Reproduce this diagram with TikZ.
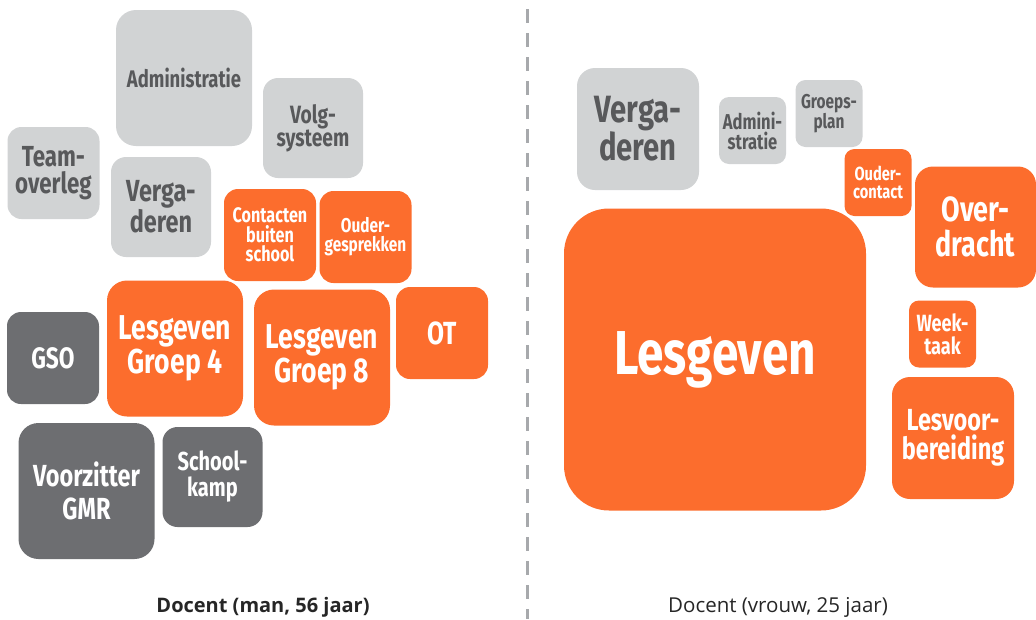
\documentclass[tikz,border=0pt]{standalone}
\usepackage{fontspec}
\setmainfont{Open Sans}
\newfontfamily\boxfont[FakeStretch=0.77]{Fira Sans}
\usepackage{tikz}
\definecolor{oranje}{HTML}{FC6D2D}
\definecolor{lichtgrijs}{HTML}{D1D3D4}
\definecolor{donkergrijs}{HTML}{6D6E71}
\definecolor{tekstgrijs}{HTML}{58595B}
\definecolor{lijngrijs}{HTML}{A7A9AC}

\begin{document}
\begin{tikzpicture}[x=1pt, y=-1pt,
	box/.style={rectangle, inner sep=0pt, align=center, minimum width=#1pt, minimum height=#1pt},
	light/.style={box=#1, fill=lichtgrijs, text=tekstgrijs},
	dark/.style={box=#1, fill=donkergrijs, text=white},
	orange/.style={box=#1, fill=oranje, text=white},
	fs/.style args={#1/#2}{font=\boxfont\bfseries\fontsize{#1}{#2}\selectfont},
	caption/.style={font=\fontsize{20}{22}\selectfont, text=black!85}]
	\useasboundingbox (0,0) rectangle (1036,619);
	% man, 56 jaar
	\node[light=136, rounded corners=20pt, fs=24/27] at (184,78) (adm) {Administratie};
	\node[light=100, rounded corners=15pt, fs=25/23] at (313,128) (volg) {Volg-\\systeem};
	\node[light=92, rounded corners=14pt, fs=29/27] at (53.5,173) (team) {Team-\\overleg};
	\node[light=100, rounded corners=15pt, fs=30.5/28.5] at (161,207) (verg) {Verga-\\deren};
	\node[orange=92, rounded corners=14pt, fs=21/19.5] at (270,235) (contact) {Contacten\\buiten\\school};
	\node[orange=92, rounded corners=14pt, fs=20/19] at (365.5,237) (ouder) {Ouder-\\gesprekken};
	\node[dark=92, rounded corners=14pt, fs=29.5/30] at (53,358) (gso) {GSO};
	\node[orange=136, rounded corners=20pt, fs=34.5/34] at (175,348.5) (lesvier) {Lesgeven\\Groep 4};
	\node[orange=136, rounded corners=20pt, fs=34.5/34] at (322,357.5) (lesacht) {Lesgeven\\Groep 8};
	\node[orange=92, rounded corners=14pt, fs=32/34] at (442,333) (ot) {OT};
	\node[dark=136, rounded corners=20pt, fs=30.5/33] at (86.5,491) (gmr) {Voorzitter\\GMR};
	\node[dark=100, rounded corners=15pt, fs=26/26] at (212.5,477) (kamp) {School-\\kamp};
	\node[caption, font=\bfseries\fontsize{20}{22}\selectfont] at (263,607) (man) {Docent (man, 56 jaar)};

	% scheidingslijn
	\coordinate (boven) at (527,9);
	\coordinate (onder) at (527,619);
	\draw[lijngrijs, line width=3pt, dash pattern=on 14pt off 10pt] (boven) -- (onder);

	% vrouw, 25 jaar
	\node[light=122, rounded corners=18pt, fs=38/35] at (638,129) (vergb) {Verga-\\deren};
	\node[light=67, rounded corners=10pt, fs=21.5/20] at (752.5,130.5) (admb) {Admini-\\stratie};
	\node[light=67, rounded corners=10pt, fs=20/20] at (829,113.5) (groeps) {Groeps-\\plan};
	\node[orange=67, rounded corners=10pt, fs=19/18] at (878,182.5) (ouderb) {Ouder-\\contact};
	\node[orange=121, rounded corners=18pt, fs=35/35] at (975.5,227) (over) {Over-\\dracht};
	\node[orange=302, rounded corners=45pt, fs=62/64] at (715,359.5) (les) {Lesgeven};
	\node[orange=67, rounded corners=10pt, fs=23.5/23] at (942.5,334) (week) {Week-\\taak};
	\node[orange=122, rounded corners=18pt, fs=30.5/29] at (953,438) (voor) {Lesvoor-\\bereiding};
	\node[caption, font=\fontsize{20.5}{22}\selectfont] at (778,607) (vrouw) {Docent (vrouw, 25 jaar)};
\end{tikzpicture}
\end{document}
